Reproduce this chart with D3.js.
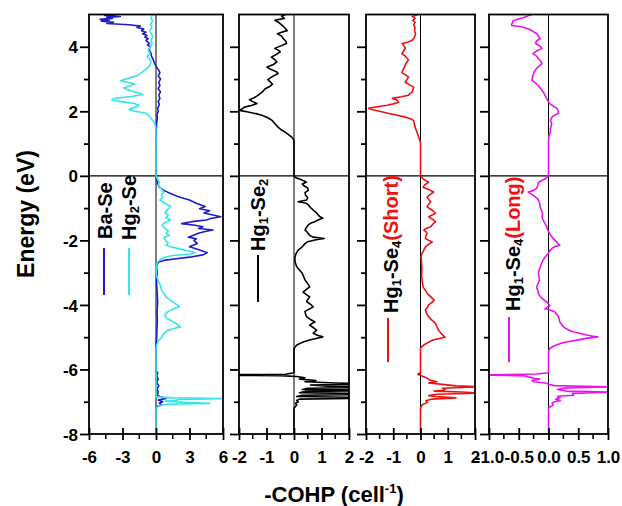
<!DOCTYPE html>
<html>
<head>
<meta charset="utf-8">
<title>COHP panels</title>
<style>
  body { margin: 0; background: #fff; }
  text { font-family: "Liberation Sans", Arial, sans-serif; font-weight: bold; }
</style>
</head>
<body>
<svg id="chart"></svg>
<script src="https://cdn.jsdelivr.net/npm/d3@7"></script>
<script>
// energy (eV), -COHP pairs
const baSe = [[5.0,-3.6],[4.97,-4.6],[4.94,-3.2],[4.91,-4.4],[4.88,-3.9],[4.85,-5.0],[4.82,-4.2],[4.79,-4.9],[4.76,-3.8],[4.72,-4.4],[4.68,-2.4],[4.64,-1.4],[4.6,-1.7],[4.55,-1.1],[4.5,-1.3],[4.45,-0.9],[4.4,-1.2],[4.35,-0.8],[4.3,-1.0],[4.25,-0.7],[4.2,-0.9],[4.1,-0.6],[4.05,-0.75],[4.0,-0.55],[3.9,-0.6],[3.8,-0.45],[3.7,-0.4],[3.6,-0.25],[3.5,-0.15],[3.4,0.0],[3.3,0.2],[3.2,0.35],[3.1,0.2],[3.0,0.4],[2.9,0.25],[2.8,0.35],[2.7,0.2],[2.6,0.4],[2.5,0.25],[2.4,0.35],[2.3,0.2],[2.2,0.3],[2.1,0.15],[2.0,0.2],[1.9,0.1],[1.8,0.12],[1.6,0.05],[1.4,0.02],[1.0,0],[0.0,0],[-0.1,0.05],[-0.25,0.15],[-0.35,0.3],[-0.45,0.7],[-0.55,1.3],[-0.65,2.0],[-0.75,3.0],[-0.85,3.6],[-0.95,4.4],[-1.02,3.9],[-1.08,4.8],[-1.15,4.3],[-1.22,5.2],[-1.27,5.8],[-1.32,4.9],[-1.37,4.5],[-1.42,3.2],[-1.48,2.3],[-1.53,3.5],[-1.58,4.2],[-1.63,3.8],[-1.68,5.1],[-1.73,4.3],[-1.78,3.8],[-1.85,3.3],[-1.9,2.9],[-1.95,3.6],[-2.0,3.4],[-2.1,3.7],[-2.2,3.0],[-2.3,3.9],[-2.38,4.6],[-2.45,4.2],[-2.52,3.0],[-2.57,1.8],[-2.62,0.7],[-2.68,0.2],[-2.8,0.05],[-3.0,0.1],[-3.3,0.05],[-3.6,0.1],[-3.9,0.15],[-4.2,0.1],[-4.5,0.12],[-4.8,0.08],[-5.1,0.05],[-5.3,0.0],[-6.05,0],[-6.1,0.15],[-6.2,0.05],[-6.3,0.2],[-6.4,0.05],[-6.5,0.25],[-6.6,0.1],[-6.7,0.2],[-6.8,0.1],[-6.85,0.4],[-6.9,0.9],[-6.95,0.2],[-7.0,0.6],[-7.05,0.3],[-7.1,0.5],[-7.15,0.1],[-7.2,0],[-8,0]];

const hg2Se = [[5.0,-0.3],[4.9,-0.45],[4.8,-0.3],[4.7,-0.5],[4.6,-0.35],[4.5,-0.55],[4.4,-0.4],[4.3,-0.3],[4.2,-0.45],[4.1,-0.35],[4.0,-0.5],[3.9,-0.7],[3.8,-0.55],[3.7,-0.8],[3.6,-0.5],[3.5,-0.45],[3.4,-0.6],[3.3,-0.9],[3.2,-1.3],[3.1,-1.7],[3.02,-2.5],[2.95,-3.2],[2.9,-2.6],[2.85,-1.9],[2.8,-2.2],[2.72,-2.9],[2.65,-2.4],[2.58,-1.7],[2.52,-1.2],[2.46,-2.2],[2.4,-3.7],[2.35,-3.95],[2.3,-3.1],[2.25,-2.0],[2.19,-1.5],[2.13,-1.8],[2.06,-2.4],[2.0,-1.9],[1.94,-0.9],[1.86,-0.6],[1.78,-0.45],[1.7,-0.25],[1.62,-0.1],[1.5,-0.02],[1.2,0],[0.0,0],[-0.1,0.15],[-0.2,0.3],[-0.3,0.2],[-0.4,0.45],[-0.5,0.7],[-0.58,0.5],[-0.67,0.6],[-0.75,0.35],[-0.85,0.8],[-0.95,1.3],[-1.05,1.0],[-1.15,0.8],[-1.22,1.1],[-1.3,0.9],[-1.37,1.3],[-1.45,0.8],[-1.52,0.55],[-1.6,0.7],[-1.7,1.1],[-1.78,0.9],[-1.85,1.2],[-1.92,0.7],[-2.0,0.85],[-2.08,1.1],[-2.15,0.9],[-2.2,1.3],[-2.27,2.2],[-2.33,2.9],[-2.38,3.5],[-2.42,3.1],[-2.47,1.5],[-2.53,0.7],[-2.6,0.35],[-2.7,0.1],[-2.85,0.0],[-3.1,0.05],[-3.25,0.2],[-3.4,0.4],[-3.55,0.5],[-3.65,0.7],[-3.75,0.9],[-3.85,1.3],[-3.95,1.7],[-4.05,2.1],[-4.12,1.6],[-4.2,1.1],[-4.3,0.8],[-4.4,0.9],[-4.5,1.4],[-4.6,1.9],[-4.68,2.2],[-4.74,1.5],[-4.8,0.95],[-4.9,0.7],[-5.0,0.5],[-5.1,0.25],[-5.2,0.1],[-5.35,0],[-6.85,0],[-6.88,1.5],[-6.9,6.5],[-6.93,2.0],[-6.96,1.8],[-6.98,0.8],[-7.02,2.5],[-7.05,4.8],[-7.08,1.0],[-7.12,0.3],[-7.2,0],[-8,0]];

const hg1Se2 = [[5.0,-0.3],[4.95,-0.45],[4.88,-0.35],[4.82,-0.7],[4.75,-0.55],[4.68,-0.45],[4.6,-0.35],[4.5,-0.25],[4.45,-0.45],[4.4,-0.6],[4.33,-0.45],[4.26,-0.4],[4.18,-0.3],[4.1,-0.27],[4.02,-0.5],[3.95,-0.7],[3.88,-0.55],[3.84,-0.5],[3.76,-0.65],[3.68,-0.82],[3.6,-0.7],[3.53,-0.62],[3.45,-0.75],[3.37,-0.98],[3.3,-0.85],[3.22,-0.62],[3.17,-0.58],[3.08,-0.78],[2.98,-0.95],[2.9,-0.85],[2.84,-0.78],[2.76,-0.9],[2.7,-1.05],[2.6,-1.15],[2.5,-1.3],[2.42,-1.45],[2.36,-1.62],[2.3,-1.5],[2.24,-1.35],[2.18,-1.55],[2.13,-1.8],[2.07,-1.9],[2.03,-1.98],[1.98,-1.67],[1.92,-1.35],[1.88,-1.17],[1.8,-0.95],[1.72,-0.8],[1.62,-0.7],[1.51,-0.58],[1.42,-0.45],[1.36,-0.33],[1.28,-0.2],[1.2,-0.08],[1.1,0],[0,0],[-0.05,0.05],[-0.1,0.2],[-0.15,0.35],[-0.2,0.45],[-0.25,0.3],[-0.3,0.35],[-0.38,0.5],[-0.45,0.52],[-0.52,0.4],[-0.6,0.42],[-0.67,0.5],[-0.75,0.46],[-0.8,0.15],[-0.85,0.45],[-0.9,0.52],[-0.98,0.6],[-1.06,0.7],[-1.13,0.8],[-1.2,0.87],[-1.27,0.95],[-1.31,1.05],[-1.36,0.9],[-1.42,0.75],[-1.47,0.6],[-1.52,0.52],[-1.6,0.45],[-1.68,0.4],[-1.74,0.48],[-1.8,0.52],[-1.86,0.6],[-1.9,0.7],[-1.94,1.1],[-1.98,0.8],[-2.04,0.5],[-2.1,0.4],[-2.2,0.3],[-2.3,0.15],[-2.4,0.08],[-2.5,0.04],[-2.6,0.03],[-2.7,0.05],[-2.82,0.1],[-2.92,0.2],[-3.02,0.3],[-3.12,0.35],[-3.23,0.4],[-3.34,0.5],[-3.44,0.57],[-3.52,0.45],[-3.6,0.33],[-3.68,0.45],[-3.75,0.57],[-3.83,0.5],[-3.9,0.46],[-3.98,0.6],[-4.06,0.7],[-4.13,0.55],[-4.2,0.4],[-4.28,0.42],[-4.37,0.46],[-4.45,0.6],[-4.53,0.76],[-4.58,0.65],[-4.63,0.57],[-4.7,0.7],[-4.78,0.82],[-4.84,0.75],[-4.88,0.7],[-4.94,0.85],[-4.99,1.05],[-5.04,0.8],[-5.09,0.57],[-5.16,0.3],[-5.24,0.1],[-5.35,0],[-6.1,0],[-6.15,-0.3],[-6.17,-5],[-6.19,-0.5],[-6.22,0.1],[-6.26,0.4],[-6.3,0.2],[-6.34,0.8],[-6.38,0.4],[-6.42,1.5],[-6.45,3],[-6.48,0.6],[-6.52,1.2],[-6.55,4],[-6.58,0.5],[-6.62,0.3],[-6.65,4],[-6.68,0.4],[-6.72,0.2],[-6.76,3.5],[-6.8,0.3],[-6.84,0.1],[-6.88,4],[-6.92,0.2],[-6.96,0.1],[-7.0,0.15],[-7.05,0.05],[-7.1,0.1],[-7.2,0],[-8,0]];

const hg1Se4Short = [[5.0,-0.1],[4.94,-0.3],[4.88,-0.2],[4.82,-0.28],[4.76,-0.2],[4.68,-0.25],[4.6,-0.2],[4.5,-0.22],[4.4,-0.18],[4.3,-0.22],[4.2,-0.3],[4.15,-0.45],[4.1,-0.67],[4.02,-0.6],[3.95,-0.56],[3.87,-0.62],[3.79,-0.68],[3.7,-0.55],[3.6,-0.44],[3.52,-0.5],[3.43,-0.56],[3.35,-0.6],[3.27,-0.65],[3.2,-0.68],[3.13,-0.55],[3.06,-0.44],[2.98,-0.5],[2.9,-0.56],[2.82,-0.4],[2.75,-0.25],[2.67,-0.28],[2.6,-0.3],[2.55,-0.38],[2.5,-0.44],[2.45,-0.7],[2.4,-1.03],[2.34,-0.85],[2.28,-0.8],[2.23,-1.0],[2.19,-1.22],[2.14,-1.6],[2.09,-1.9],[2.05,-1.75],[2.0,-1.5],[1.94,-1.2],[1.88,-0.85],[1.82,-0.56],[1.76,-0.35],[1.72,-0.26],[1.6,-0.22],[1.51,-0.2],[1.36,-0.13],[1.2,-0.07],[1.1,-0.02],[1.0,0],[0,0],[-0.1,0.1],[-0.2,0.3],[-0.28,0.15],[-0.35,0.1],[-0.42,0.3],[-0.5,0.48],[-0.58,0.35],[-0.66,0.24],[-0.73,0.3],[-0.8,0.37],[-0.88,0.3],[-0.96,0.24],[-1.05,0.4],[-1.12,0.5],[-1.16,0.55],[-1.22,0.4],[-1.27,0.3],[-1.35,0.45],[-1.42,0.55],[-1.5,0.45],[-1.58,0.37],[-1.63,0.2],[-1.68,0.12],[-1.73,0.2],[-1.78,0.24],[-1.86,0.2],[-1.94,0.18],[-2.0,0.3],[-2.05,0.43],[-2.12,0.3],[-2.2,0.18],[-2.3,0.12],[-2.4,0.06],[-2.5,0.02],[-2.7,0.04],[-2.9,0.05],[-3.1,0.04],[-3.3,0.07],[-3.45,0.1],[-3.55,0.18],[-3.65,0.25],[-3.75,0.38],[-3.85,0.5],[-3.92,0.42],[-4.0,0.3],[-4.08,0.25],[-4.16,0.18],[-4.25,0.22],[-4.37,0.3],[-4.47,0.42],[-4.57,0.55],[-4.67,0.6],[-4.78,0.66],[-4.88,0.75],[-4.96,0.85],[-5.0,0.9],[-5.04,0.7],[-5.08,0.48],[-5.16,0.28],[-5.24,0.12],[-5.33,0],[-6.1,0],[-6.15,-0.1],[-6.2,0.05],[-6.27,0.25],[-6.33,0.35],[-6.38,0.6],[-6.42,0.3],[-6.47,0.9],[-6.51,1.3],[-6.54,2.2],[-6.58,0.8],[-6.63,0.9],[-6.67,0.5],[-6.7,1.5],[-6.73,2.2],[-6.77,0.6],[-6.81,0.3],[-6.84,0.55],[-6.88,1.3],[-6.92,0.4],[-6.97,0.2],[-7.02,0.25],[-7.1,0.05],[-7.2,0],[-8,0]];

const hg1Se4Long = [[5.0,-0.28],[4.95,-0.35],[4.9,-0.43],[4.85,-0.52],[4.8,-0.6],[4.75,-0.6],[4.7,-0.62],[4.66,-0.62],[4.62,-0.45],[4.58,-0.38],[4.52,-0.3],[4.46,-0.25],[4.41,-0.2],[4.33,-0.17],[4.25,-0.14],[4.18,-0.2],[4.1,-0.22],[4.03,-0.15],[3.95,-0.11],[3.87,-0.2],[3.79,-0.26],[3.71,-0.2],[3.63,-0.17],[3.55,-0.13],[3.48,-0.11],[3.4,-0.16],[3.33,-0.2],[3.22,-0.24],[3.12,-0.26],[3.04,-0.27],[2.96,-0.28],[2.88,-0.22],[2.8,-0.17],[2.7,-0.13],[2.6,-0.09],[2.5,-0.06],[2.4,-0.03],[2.32,-0.01],[2.24,0.02],[2.16,0.08],[2.09,0.14],[2.02,0.16],[1.94,0.17],[1.88,0.1],[1.82,0.06],[1.72,0.03],[1.65,0.05],[1.57,0.05],[1.45,0.03],[1.36,0.03],[1.25,0.01],[1.1,0],[0,0],[-0.1,-0.06],[-0.2,-0.17],[-0.3,-0.18],[-0.39,-0.2],[-0.45,-0.25],[-0.5,-0.34],[-0.55,-0.3],[-0.6,-0.26],[-0.68,-0.2],[-0.75,-0.17],[-0.85,-0.15],[-0.96,-0.14],[-1.06,-0.12],[-1.17,-0.1],[-1.27,-0.11],[-1.37,-0.09],[-1.47,-0.06],[-1.57,-0.03],[-1.65,-0.02],[-1.73,0.0],[-1.82,0.03],[-1.9,0.06],[-2.0,0.11],[-2.08,0.15],[-2.15,0.19],[-2.2,0.1],[-2.25,0.06],[-2.32,0.02],[-2.4,0.0],[-2.5,-0.05],[-2.6,-0.09],[-2.72,-0.12],[-2.83,-0.14],[-2.93,-0.16],[-3.03,-0.17],[-3.14,-0.16],[-3.24,-0.15],[-3.35,-0.18],[-3.45,-0.2],[-3.55,-0.18],[-3.65,-0.17],[-3.73,-0.14],[-3.8,-0.11],[-3.88,-0.05],[-3.96,0.0],[-4.03,0.02],[-4.08,-0.03],[-4.12,-0.06],[-4.17,0.05],[-4.22,0.11],[-4.3,0.14],[-4.37,0.17],[-4.45,0.18],[-4.53,0.19],[-4.6,0.22],[-4.68,0.25],[-4.76,0.32],[-4.83,0.41],[-4.88,0.52],[-4.93,0.64],[-4.97,0.75],[-4.99,0.83],[-5.03,0.65],[-5.09,0.48],[-5.15,0.3],[-5.2,0.19],[-5.28,0.08],[-5.35,0.02],[-5.45,0],[-6.1,0],[-6.14,-0.2],[-6.17,-1.1],[-6.2,-0.4],[-6.23,-0.34],[-6.27,-0.25],[-6.3,-0.15],[-6.34,-0.28],[-6.38,-0.25],[-6.42,-0.05],[-6.46,0],[-6.5,0.1],[-6.54,1.1],[-6.57,0.3],[-6.62,0.15],[-6.67,0.3],[-6.7,1.1],[-6.74,0.4],[-6.8,0.42],[-6.83,0.15],[-6.87,0.2],[-6.92,0.12],[-6.96,0.2],[-7.0,0.1],[-7.05,0.06],[-7.1,0.08],[-7.2,0],[-8,0]];

const energyTicks = [-8, -6, -4, -2, 0, 2, 4];
const panel1Ticks = [-6, -3, 0, 3, 6];
const panel2Ticks = [-2, -1, 0, 1, 2];
const panel4Ticks = [-1.0, -0.5, 0.0, 0.5, 1.0];

var width = 622, height = 506;
var plotTop = 14.5, plotBottom = 434;

var svg = d3.select("#chart").attr("width", width).attr("height", height);

var y = d3.scaleLinear().domain([5, -8]).range([plotTop, plotBottom]);

var panels = [
  { x0: 89, x1: 223, domain: [-6, 6], ticks: panel1Ticks, minorStep: 1.5, fmt: d => String(d),
    series: [{ data: baSe, color: "#1c1ccc" }, { data: hg2Se, color: "#35e6e8" }] },
  { x0: 239, x1: 349, domain: [-2, 2], ticks: panel2Ticks, minorStep: 0.5, fmt: d => String(d),
    series: [{ data: hg1Se2, color: "#000000" }] },
  { x0: 366, x1: 475, domain: [-2, 2], ticks: panel2Ticks, minorStep: 0.5, fmt: d => String(d),
    series: [{ data: hg1Se4Short, color: "#ee1111" }] },
  { x0: 489, x1: 608, domain: [-1, 1], ticks: panel4Ticks, minorStep: 0.25, fmt: d => d.toFixed(1),
    series: [{ data: hg1Se4Long, color: "#ee11ee" }] }
];

var defs = svg.append("defs");

panels.forEach(function(p, i) {
  var x = d3.scaleLinear().domain(p.domain).range([p.x0, p.x1]);
  var g = svg.append("g").attr("class", "panel");

  defs.append("clipPath").attr("id", "clip" + i)
    .append("rect").attr("x", p.x0).attr("y", plotTop).attr("width", p.x1 - p.x0).attr("height", plotBottom - plotTop);

  var line = d3.line().x(d => x(d[1])).y(d => y(d[0]));

  var plot = g.append("g").attr("clip-path", "url(#clip" + i + ")");

  // reference lines at zero
  plot.append("line").attr("x1", x(0)).attr("x2", x(0)).attr("y1", plotTop).attr("y2", plotBottom)
    .attr("stroke", "#000").attr("stroke-width", 1);
  plot.append("line").attr("x1", p.x0).attr("x2", p.x1).attr("y1", y(0)).attr("y2", y(0))
    .attr("stroke", "#000").attr("stroke-width", 1.3);

  p.series.forEach(function(s) {
    plot.append("path").datum(s.data)
      .attr("d", line)
      .attr("fill", "none")
      .attr("stroke", s.color)
      .attr("stroke-width", 1.6)
      .attr("stroke-linejoin", "round");
  });

  // frame
  g.append("rect").attr("x", p.x0).attr("y", plotTop).attr("width", p.x1 - p.x0).attr("height", plotBottom - plotTop)
    .attr("fill", "none").attr("stroke", "#000").attr("stroke-width", 1.8);

  // left energy ticks
  var yAxis = d3.axisLeft(y).tickValues(d3.range(-8, 5, 1)).tickSize(0).tickFormat("");
  var ya = g.append("g").attr("transform", "translate(" + p.x0 + ",0)").call(yAxis);
  ya.select(".domain").remove();
  ya.selectAll(".tick").append("line")
    .attr("x1", 0).attr("x2", d => (d % 2 === 0 ? -9 : -5))
    .attr("stroke", "#000").attr("stroke-width", 1.8);

  if (i === 0) {
    ya.selectAll(".tick").filter(d => energyTicks.indexOf(d) >= 0).append("text")
      .attr("x", -11).attr("dy", "0.36em")
      .attr("text-anchor", "end")
      .attr("fill", "#000")
      .style("font-size", "17px")
      .text(d => String(d));
  }

  // bottom ticks
  var minor = d3.range(p.domain[0], p.domain[1] + 1e-9, p.minorStep)
    .filter(v => !p.ticks.some(t => Math.abs(t - v) < 1e-9));
  var xAxis = d3.axisBottom(x).tickValues(p.ticks).tickSize(0).tickFormat(p.fmt).tickPadding(0);
  var xa = g.append("g").attr("transform", "translate(0," + plotBottom + ")").call(xAxis);
  xa.select(".domain").remove();
  xa.selectAll(".tick text").attr("y", 29).attr("dy", 0).attr("fill", "#000").style("font-size", "17px");
  xa.selectAll(".tick").append("line").attr("y1", -6).attr("y2", 6)
    .attr("stroke", "#000").attr("stroke-width", 1.8);
  xa.selectAll(".minor").data(minor).enter().append("line").attr("class", "minor")
    .attr("x1", d => x(d)).attr("x2", d => x(d)).attr("y1", 0).attr("y2", 5)
    .attr("stroke", "#000").attr("stroke-width", 1.6);
});

// legends, rotated
function legendText(x, y0, parts, size) {
  var t = svg.append("text")
    .attr("transform", "translate(" + x + "," + y0 + ") rotate(-90)")
    .style("font-size", size + "px");
  parts.forEach(function(pt) {
    var sp = t.append("tspan").text(pt.t).attr("fill", pt.c || "#000");
    if (pt.sub) sp.style("font-size", (size * 0.65) + "px").attr("dy", 3);
    if (pt.after) sp.attr("dy", -3);
  });
  return t;
}
function legendLine(x, y1, y2, color) {
  svg.append("line").attr("x1", x).attr("x2", x).attr("y1", y1).attr("y2", y2)
    .attr("stroke", color).attr("stroke-width", 2);
}

legendText(112, 239, [{ t: "Ba-Se" }], 20);
legendLine(104, 248, 295, "#1c1ccc");
legendText(136, 240, [{ t: "Hg" }, { t: "2", sub: true }, { t: "-Se", after: true }], 20);
legendLine(129, 248, 295, "#35e6e8");

legendText(265, 251, [{ t: "Hg" }, { t: "1", sub: true }, { t: "-Se", after: true }, { t: "2", sub: true }], 20);
legendLine(258, 255, 302, "#000");

legendText(398, 313, [{ t: "Hg" }, { t: "1", sub: true }, { t: "-Se", after: true }, { t: "4", sub: true },
  { t: "(Short)", c: "#ee1111", after: true }], 20);
legendLine(388, 318, 362, "#ee1111");

legendText(520, 311, [{ t: "Hg" }, { t: "1", sub: true }, { t: "-Se", after: true }, { t: "4", sub: true },
  { t: "(Long)", c: "#ee1111", after: true }], 20);
legendLine(509, 317, 362, "#ee11ee");

// axis titles
svg.append("text")
  .attr("transform", "translate(34,214) rotate(-90)")
  .attr("text-anchor", "middle")
  .style("font-size", "23px")
  .text("Energy (eV)");

var xt = svg.append("text")
  .attr("x", 334).attr("y", 502)
  .attr("text-anchor", "middle")
  .style("font-size", "22px");
xt.append("tspan").text("-COHP (cell");
xt.append("tspan").text("-1").style("font-size", "13px").attr("dy", -9);
xt.append("tspan").text(")").attr("dy", 9);
</script>
</body>
</html>
